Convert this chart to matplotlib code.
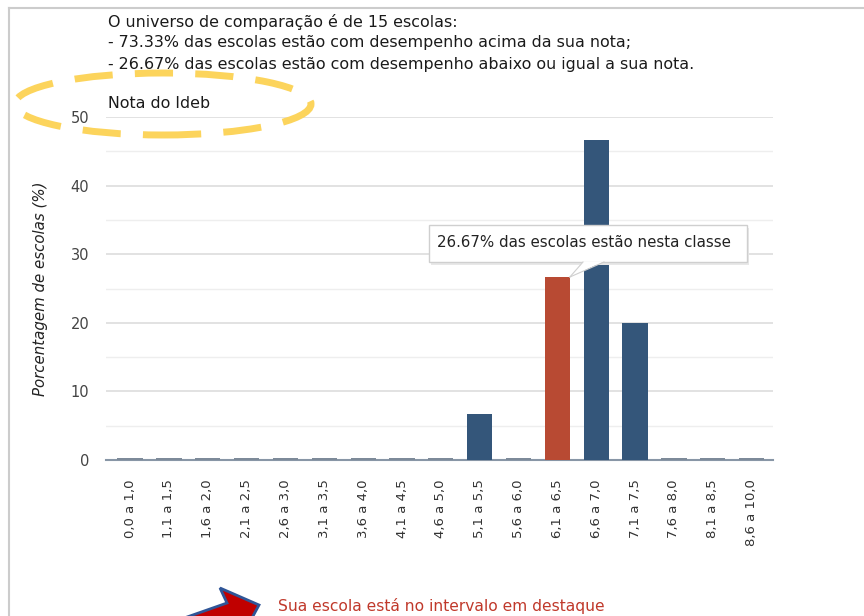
import matplotlib
matplotlib.use("Agg")
import matplotlib.pyplot as plt
from matplotlib.patches import Ellipse, Polygon, FancyBboxPatch
from matplotlib.lines import Line2D

categories = ["0,0 a 1,0", "1,1 a 1,5", "1,6 a 2,0", "2,1 a 2,5", "2,6 a 3,0",
              "3,1 a 3,5", "3,6 a 4,0", "4,1 a 4,5", "4,6 a 5,0", "5,1 a 5,5",
              "5,6 a 6,0", "6,1 a 6,5", "6,6 a 7,0", "7,1 a 7,5", "7,6 a 8,0",
              "8,1 a 8,5", "8,6 a 10,0"]
percentages = [0, 0, 0, 0, 0, 0, 0, 0, 0, 6.67, 0, 26.67, 46.67, 20.0, 0, 0, 0]
highlight = "6,1 a 6,5"
y_ticks = [0, 10, 20, 30, 40, 50]

BLUE = "#34567a"
RED = "#b84a33"
ZERO = "#7d8a99"

fig = plt.figure(figsize=(8.64, 6.16), dpi=100)
W, H = 864, 616

def fx(px):
    return px / W

def fy(py):
    return 1 - py / H

ax = fig.add_axes([fx(106), fy(460), fx(773) - fx(106), fy(117) - fy(460)])
x = list(range(len(categories)))
colors = [RED if c == highlight else BLUE for c in categories]
ax.bar(x, percentages, width=0.65, color=colors, zorder=3)
zero_x = [i for i, v in zip(x, percentages) if v == 0]
ax.bar(zero_x, [0.25] * len(zero_x), width=0.65, color=ZERO, zorder=3, clip_on=False)

ax.set_xlim(-0.62, 16.55)
ax.set_ylim(0, 50)
ax.set_yticks(y_ticks)
ax.set_yticks([5, 15, 25, 35, 45], minor=True)
ax.grid(axis="y", which="major", color="#dddddd", linewidth=1.2, zorder=0)
ax.grid(axis="y", which="minor", color="#eeeeee", linewidth=1.0, zorder=0)
ax.axhline(0, color="#8896a6", linewidth=1.5, zorder=2, clip_on=False)
for s in ax.spines.values():
    s.set_visible(False)
ax.tick_params(axis="both", which="both", length=0)
ax.tick_params(axis="y", labelsize=10.5, labelcolor="#444444", pad=12)
ax.set_xticks(x)
ax.set_xticklabels(categories, rotation=90, fontsize=9.5, color="#333333")
ax.tick_params(axis="x", pad=14)
ax.set_ylabel("Porcentagem de escolas (%)", fontsize=10.8, style="italic",
              color="#222222", labelpad=16)

# frame lines
fig.add_artist(Line2D([fx(9), fx(9)], [0, fy(8)], color="#cccccc", lw=1.5))
fig.add_artist(Line2D([fx(9), 1], [fy(8), fy(8)], color="#cccccc", lw=1.5))

# header text
hdr = dict(fontsize=11.4, va="center", ha="left", color="#1a1a1a")
fig.text(fx(108), fy(22), "O universo de comparação é de 15 escolas:", **hdr)
fig.text(fx(108), fy(43), "- 73.33% das escolas estão com desempenho acima da sua nota;", **hdr)
fig.text(fx(108), fy(64), "- 26.67% das escolas estão com desempenho abaixo ou igual a sua nota.", **hdr)
fig.text(fx(108), fy(103), "Nota do Ideb", **hdr)

# yellow dashed ellipse
ell = Ellipse((fx(163), fy(104)), fx(296), fy(0) - fy(62), fill=False,
              edgecolor="#fcd45c", linewidth=5, linestyle=(0, (5.5, 3.2)),
              transform=fig.transFigure)
fig.add_artist(ell)

# tooltip
i_h = categories.index(highlight)
v_h = percentages[i_h]
box = FancyBboxPatch((fx(429), fy(262)), fx(747) - fx(429), fy(225) - fy(262),
                     boxstyle="square,pad=0", facecolor="white", edgecolor="#cfcfcf",
                     linewidth=1, transform=fig.transFigure, zorder=10)
shadow = FancyBboxPatch((fx(431), fy(265)), fx(747) - fx(429), fy(225) - fy(262),
                        boxstyle="square,pad=0", facecolor="#e8e8e8", edgecolor="none",
                        transform=fig.transFigure, zorder=9)
fig.add_artist(shadow)
fig.add_artist(box)
tip_disp = ax.transData.transform((i_h + 0.32, v_h))
tip_fig = fig.transFigure.inverted().transform(tip_disp)
ptr = Polygon([(fx(583), fy(261.5)), (fx(604), fy(261.5)), tuple(tip_fig)], closed=True,
              facecolor="white", edgecolor="none", transform=fig.transFigure, zorder=11)
fig.add_artist(ptr)
fig.add_artist(Line2D([fx(583), tip_fig[0]], [fy(262), tip_fig[1]], color="#cfcfcf",
                      lw=0.8, zorder=11))
fig.add_artist(Line2D([fx(604), tip_fig[0]], [fy(262), tip_fig[1]], color="#cfcfcf",
                      lw=0.8, zorder=11))
fig.text(fx(437), fy(243), f"{v_h:.2f}% das escolas estão nesta classe", fontsize=10.8,
         va="center", ha="left", color="#222222", zorder=12)

# red arrow
arrow_pts = [(133, 636), (227, 603), (220, 588), (259, 605), (239, 642), (235.5, 626), (141, 660)]
arrow = Polygon([(fx(a), fy(b)) for a, b in arrow_pts], closed=True, facecolor="#c00000",
                edgecolor="#2f5597", linewidth=2, transform=fig.transFigure, zorder=5)
fig.add_artist(arrow)
fig.text(fx(278), fy(606), "Sua escola está no intervalo em destaque", fontsize=11.2,
         color="#c0392b", va="center", ha="left")

fig.savefig("out.png", dpi=100)
